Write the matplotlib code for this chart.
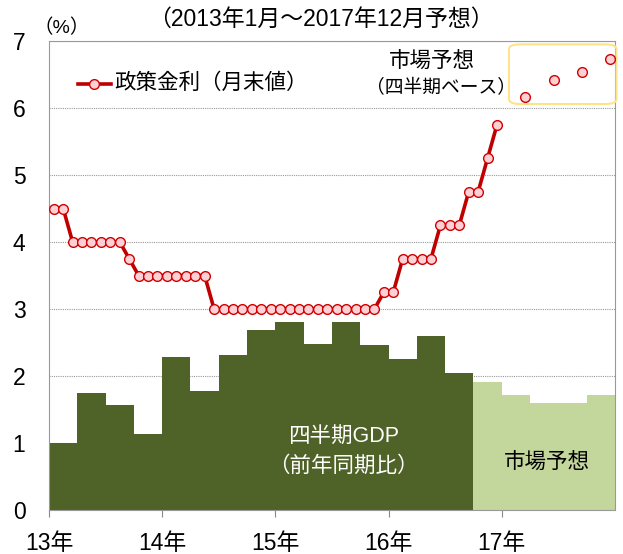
import numpy as np
import matplotlib.pyplot as plt
from matplotlib.patches import FancyBboxPatch

plt.rcParams['font.family'] = ['Liberation Sans', 'Noto Sans CJK JP']

# policy rate, month-end, Jan 2013 - Dec 2016
rate = [4.5, 4.5, 4.0, 4.0, 4.0, 4.0, 4.0, 4.0, 3.75, 3.5, 3.5, 3.5,
        3.5, 3.5, 3.5, 3.5, 3.5, 3.0, 3.0, 3.0, 3.0, 3.0, 3.0, 3.0,
        3.0, 3.0, 3.0, 3.0, 3.0, 3.0, 3.0, 3.0, 3.0, 3.0, 3.0, 3.25,
        3.25, 3.75, 3.75, 3.75, 3.75, 4.25, 4.25, 4.25, 4.75, 4.75, 5.25, 5.75]
# market forecast, quarter-end months of 2017
fc_months = [2, 5, 8, 11]
fc_rate = [6.16, 6.42, 6.54, 6.73]

# quarterly GDP yoy, 2013Q1 - 2016Q3 actual, 2016Q4 - 2017Q4 forecast
gdp = [1.0, 1.74, 1.57, 1.13, 2.28, 1.77, 2.32, 2.69,
       2.80, 2.48, 2.80, 2.47, 2.26, 2.59, 2.05]
gdp_fc = [1.91, 1.72, 1.60, 1.60, 1.72]

years = [2013, 2014, 2015, 2016, 2017]
year_labels = ['13年', '14年', '15年', '16年', '17年']

fig = plt.figure(figsize=(6.23, 5.54), dpi=100)
ax = fig.add_axes([0.0787, 0.0794, 0.9083, 0.8466])

q = 2013 + np.arange(len(gdp)) / 4
qf = 2013 + (len(gdp) + np.arange(len(gdp_fc))) / 4
ax.bar(q, gdp, width=0.25, align='edge', color='#4F6228', zorder=2)
ax.bar(qf, gdp_fc, width=0.25, align='edge', color='#C3D69B', zorder=2)

xm = 2013 + (np.arange(len(rate)) + 0.5) / 12
ax.plot(xm, rate, color='#C00000', lw=2.6, marker='o', ms=7,
        mfc='#FCD0D4', mec='#D00000', mew=1.0, zorder=4)
xf = 2017 + (np.array(fc_months) + 0.5) / 12
ax.plot(xf, fc_rate, ls='none', marker='o', ms=7,
        mfc='#FCD0D4', mec='#D00000', mew=1.0, zorder=4)

box = FancyBboxPatch((2017.064, 6.06), 0.95, 0.89, boxstyle='round,pad=0,rounding_size=0.1',
                     fc='none', ec='#FFE38A', lw=1.5, mutation_aspect=1/1.4,
                     clip_on=False, zorder=3)
ax.add_patch(box)

ax.set_xlim(2013, 2018)
ax.set_ylim(0, 7)
ax.set_yticks(range(8))
ax.set_xticks(years)
ax.set_xticklabels(year_labels)
ax.tick_params(axis='y', length=0, pad=17, labelsize=16.5)
ax.tick_params(axis='x', length=5, pad=11, labelsize=16.5, color='#888888')
ax.yaxis.grid(True, ls=(0, (1, 1)), color='#999999', lw=0.8, zorder=1)
for s in ax.spines.values():
    s.set_color('#999999')

ax.plot([2013.255, 2013.545], [6.36, 6.36], color='#C00000', lw=2.6, zorder=4)
ax.plot([2013.40], [6.36], ls='none', marker='o', ms=7, mfc='#FCD0D4', mec='#D00000', zorder=5)
ax.text(2013.58, 6.36, '政策金利（月末値）', fontsize=15.5, va='center', ha='left')
ax.text(2016.383, 6.69, '市場予想', fontsize=15.5, va='center', ha='center')
ax.text(2016.46, 6.30, '（四半期ベース）', fontsize=13.5, va='center', ha='center')

ax.text(2015.60, 1.08, '四半期GDP', fontsize=15.5, color='white', ha='center', va='center', zorder=5)
ax.text(2015.60, 0.65, '（前年同期比）', fontsize=15.5, color='white', ha='center', va='center', zorder=5)
ax.text(2017.40, 0.71, '市場予想', fontsize=15.5, color='black', ha='center', va='center', zorder=5)

fig.text(0.515, 0.966, '（2013年1月～2017年12月予想）', fontsize=16.5, ha='center', va='center')
fig.text(0.0995, 0.949, '（%）', fontsize=14, ha='center', va='center')

fig.savefig('out.png', dpi=100)
